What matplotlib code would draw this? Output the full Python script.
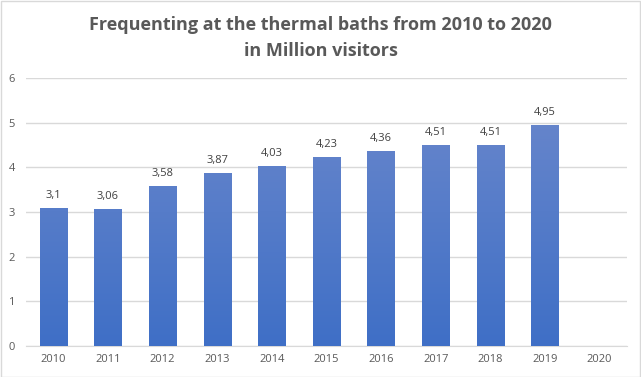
import matplotlib
matplotlib.use("Agg")
import matplotlib.pyplot as plt
import numpy as np
from matplotlib.colors import LinearSegmentedColormap
from matplotlib.patches import Rectangle

years = ["2010", "2011", "2012", "2013", "2014", "2015", "2016", "2017", "2018", "2019", "2020"]
visitors = [3.1, 3.06, 3.58, 3.87, 4.03, 4.23, 4.36, 4.51, 4.51, 4.95, None]
labels = ["3,1", "3,06", "3,58", "3,87", "4,03", "4,23", "4,36", "4,51", "4,51", "4,95", ""]
yticks = [0, 1, 2, 3, 4, 5, 6]
title = "Frequenting at the thermal baths from 2010 to 2020\nin Million visitors"

plt.rcParams['font.family'] = ['Open Sans', 'DejaVu Sans']

fig = plt.figure(figsize=(6.41, 3.77), dpi=100)
ax = fig.add_axes([26/641, 1-346/377, 601/641, 268/377])

x = np.arange(len(years))
vals = np.array([v if v is not None else 0 for v in visitors], dtype=float)
bars = ax.bar(x, vals, width=0.5, color='none', edgecolor='none', zorder=3)

cmap = LinearSegmentedColormap.from_list("g", ["#3f6fc6", "#6d89cc"])
grad = np.linspace(0, 1, 256).reshape(-1, 1)
for b, v in zip(bars, visitors):
    if v is None:
        continue
    x0 = b.get_x(); w = b.get_width()
    im = ax.imshow(grad, cmap=cmap, origin='lower', aspect='auto',
                   extent=[x0, x0 + w, 0, 6], zorder=3)
    im.set_clip_path(b)

for xi, v, lab in zip(x, visitors, labels):
    if v is None:
        continue
    ax.annotate(lab, (xi, v), xytext=(0, 5), textcoords='offset points',
                ha='center', va='bottom', fontsize=8, color='#404040')

ax.set_xlim(-0.5, len(years) - 0.5)
ax.set_ylim(0, 6)
ax.set_xticks(x)
ax.set_xticklabels(years)
ax.set_yticks(yticks)
ax.tick_params(axis='both', length=0, labelsize=8, labelcolor='#595959')
ax.tick_params(axis='x', pad=6)
ax.tick_params(axis='y', pad=8)
ax.grid(axis='y', color='#d9d9d9', linewidth=1, zorder=0)
ax.set_axisbelow(True)
for s in ['top', 'right', 'left']:
    ax.spines[s].set_visible(False)
ax.spines['bottom'].set_color('#d9d9d9')

fig.text(0.5, 1 - 38/377, title, ha='center', va='center', fontsize=13,
         fontweight='bold', color='#595959', linespacing=1.5)

fig.patches.append(Rectangle((0.5/641, 0.5/377), 1 - 1.5/641, 1 - 1.5/377,
                             transform=fig.transFigure, fill=False,
                             edgecolor='#d9d9d9', linewidth=1))

fig.savefig("out.png", dpi=100)
